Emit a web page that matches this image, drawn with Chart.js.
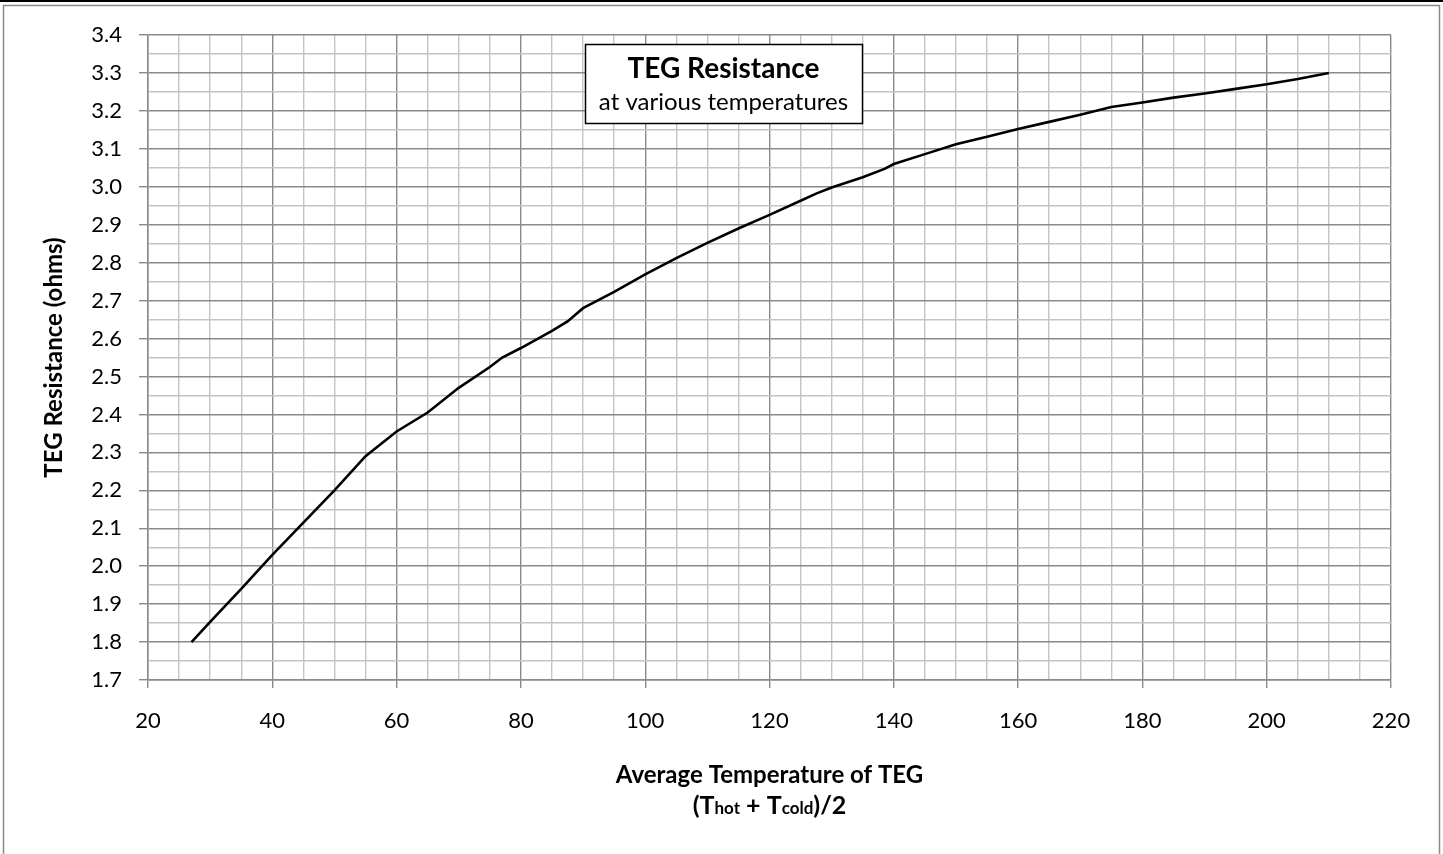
<!DOCTYPE html>
<html>
<head>
<meta charset="utf-8">
<script src="https://cdn.jsdelivr.net/npm/chart.js@4.4.1/dist/chart.umd.min.js"></script>
<style>
  html, body { margin: 0; padding: 0; background: #fff; }
  canvas { display: block; }
</style>
</head>
<body>
<canvas id="tegChart" width="1443" height="854"></canvas>
<script>
// values
var temps = [27, 30, 35, 40, 45, 50, 55, 60, 65, 70, 75, 77, 80, 85, 87.5, 90, 95, 100, 105, 110,
             115, 120, 125, 127.5, 130, 135, 138.5, 140, 145, 150, 155, 160, 165, 170, 175, 180,
             185, 190, 195, 200, 205, 210];
var resistance = [1.80, 1.853, 1.94, 2.03, 2.115, 2.20, 2.29, 2.355, 2.405, 2.47, 2.525, 2.55, 2.575,
                  2.62, 2.645, 2.68, 2.723, 2.769, 2.812, 2.852, 2.89, 2.926, 2.963, 2.982, 2.998,
                  3.025, 3.047, 3.06, 3.086, 3.112, 3.132, 3.152, 3.171, 3.19, 3.21, 3.222, 3.235,
                  3.246, 3.258, 3.27, 3.284, 3.30];

var xMin = 20, xMax = 220, xMinor = 5, xMajor = 20;
var yMin = 1.7, yMax = 3.4, yMinor = 0.05, yMajor = 0.1;

var chartTitle = "TEG Resistance";
var chartSubtitle = "at various temperatures";
var yTitle = "TEG Resistance (ohms)";
var xTitle = "Average Temperature of TEG";

var FONT = "Lato";
var majorColor = "#8a8a8a";
var minorColor = "#c4c4c4";

function isMajorX(v) { return Math.abs(v / xMajor - Math.round(v / xMajor)) < 1e-6; }
function isMajorY(v) { return Math.abs(v / yMajor - Math.round(v / yMajor)) < 1e-6; }

var points = [];
for (var i = 0; i < temps.length; i++) {
    points.push({ x: temps[i], y: resistance[i] });
}

// white page, outer frame, title box and the two line x title
var decorations = {
    id: "decorations",
    beforeDraw: function(chart) {
        var ctx = chart.ctx;
        ctx.save();
        ctx.fillStyle = "#fff";
        ctx.fillRect(0, 0, chart.width, chart.height);
        ctx.fillStyle = "#000";
        ctx.fillRect(0, 0, chart.width, 2);
        ctx.strokeStyle = "#8a8a8a";
        ctx.lineWidth = 1.5;
        ctx.strokeRect(3.5, 5.5, chart.width - 7, chart.height);
        ctx.restore();
    },
    afterDraw: function(chart) {
        var ctx = chart.ctx;
        var area = chart.chartArea;
        ctx.save();

        // title box
        ctx.fillStyle = "#fff";
        ctx.fillRect(585, 44, 277, 79);
        ctx.strokeStyle = "#000";
        ctx.lineWidth = 1.5;
        ctx.strokeRect(585.5, 44.5, 277, 79);
        ctx.fillStyle = "#000";
        ctx.textAlign = "center";
        ctx.textBaseline = "alphabetic";
        ctx.font = "bold 28px " + FONT;
        ctx.fillText(chartTitle, 723.5, 78);
        ctx.font = "24px " + FONT;
        ctx.fillText(chartSubtitle, 723.5, 110);

        // x axis title
        var cx = (area.left + area.right) / 2;
        ctx.font = "bold 24px " + FONT;
        ctx.fillText(xTitle, cx, 783);

        var parts = [
            { t: "(T", f: "bold 25px " + FONT },
            { t: "hot", f: "bold 17px " + FONT },
            { t: " + T", f: "bold 25px " + FONT },
            { t: "cold", f: "bold 17px " + FONT },
            { t: ")/2", f: "bold 25px " + FONT }
        ];
        var total = 0;
        parts.forEach(function(p) { ctx.font = p.f; p.w = ctx.measureText(p.t).width; total += p.w; });
        var x = cx - total / 2;
        ctx.textAlign = "left";
        parts.forEach(function(p) { ctx.font = p.f; ctx.fillText(p.t, x, 814); x += p.w; });

        ctx.restore();
    }
};

var ctx = document.getElementById("tegChart");
var tegChart = new Chart(ctx, {
    type: "line",
    data: {
        datasets: [{
            label: "TEG Resistance",
            data: points,
            borderColor: "#000",
            borderWidth: 2.6,
            pointRadius: 0,
            fill: false,
            tension: 0
        }]
    },
    options: {
        responsive: false,
        animation: false,
        layout: { padding: { top: 35, right: 52, left: 0, bottom: 0 } },
        plugins: {
            legend: { display: false },
            tooltip: { enabled: false }
        },
        scales: {
            x: {
                type: "linear",
                min: xMin,
                max: xMax,
                afterFit: function(scale) { scale.height = 174; },
                ticks: {
                    stepSize: xMinor,
                    autoSkip: false,
                    maxRotation: 0,
                    padding: 20,
                    color: "#000",
                    font: { family: FONT, size: 22 },
                    callback: function(v) { return isMajorX(v) ? String(v) : ""; }
                },
                grid: {
                    color: function(c) { return isMajorX(c.tick.value) ? majorColor : minorColor; },
                    lineWidth: 1.4,
                    tickLength: 8,
                    tickColor: function(c) { return isMajorX(c.tick.value) ? majorColor : "rgba(0,0,0,0)"; }
                },
                border: { color: majorColor, width: 1.5 }
            },
            y: {
                min: yMin,
                max: yMax,
                afterFit: function(scale) { scale.width = 148; },
                ticks: {
                    stepSize: yMinor,
                    autoSkip: false,
                    padding: 17,
                    color: "#000",
                    font: { family: FONT, size: 22 },
                    callback: function(v) { return isMajorY(v) ? v.toFixed(1) : ""; }
                },
                grid: {
                    color: function(c) { return isMajorY(c.tick.value) ? majorColor : minorColor; },
                    lineWidth: 1.4,
                    tickLength: 9,
                    tickColor: function(c) { return isMajorY(c.tick.value) ? majorColor : "rgba(0,0,0,0)"; }
                },
                border: { color: majorColor, width: 1.5 },
                title: {
                    display: true,
                    text: yTitle,
                    color: "#000",
                    font: { family: FONT, size: 24, weight: "bold" },
                    padding: { top: 40, bottom: 0 }
                }
            }
        }
    },
    plugins: [decorations]
});
</script>
</body>
</html>
